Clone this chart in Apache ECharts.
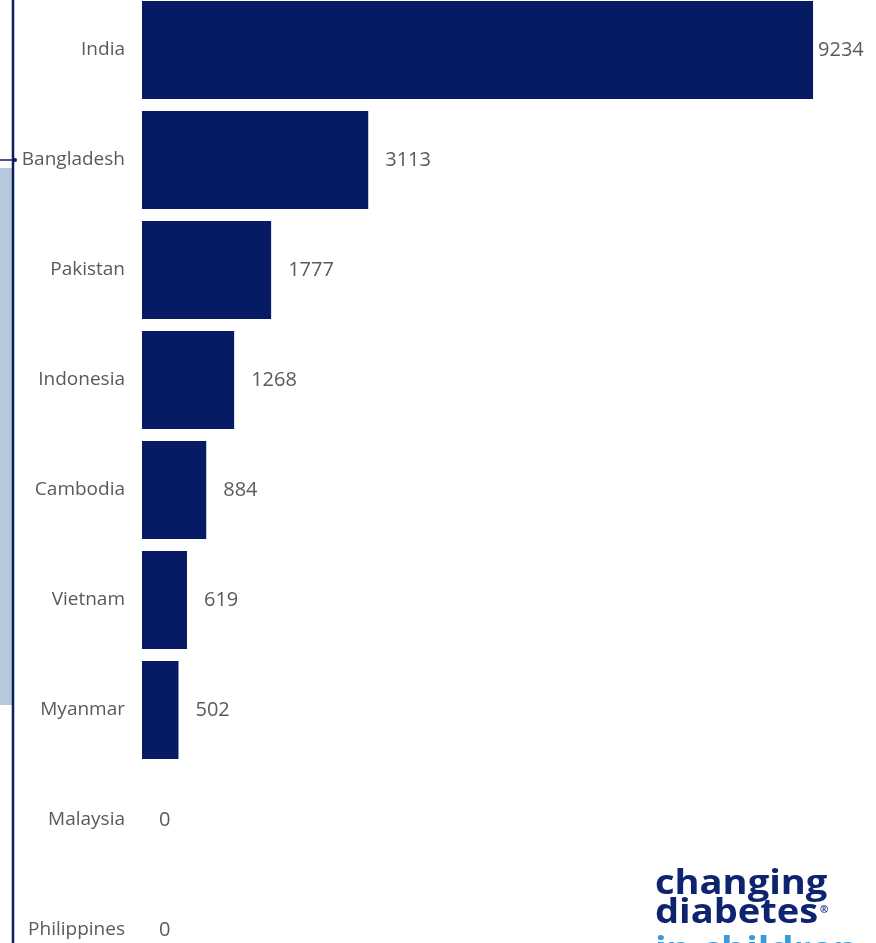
<!DOCTYPE html>
<html><head><meta charset="utf-8">
<script src="https://cdn.jsdelivr.net/npm/echarts@6/dist/echarts.min.js"></script>
<style>html,body{margin:0;padding:0;background:#fff;overflow:hidden}#c{position:absolute;left:0;top:-5px;width:876px;height:990px}</style>
</head><body><div id="c"></div>
<script>
const categories = ["India","Bangladesh","Pakistan","Indonesia","Cambodia","Vietnam","Myanmar","Malaysia","Philippines"];
const values = [9234,3113,1777,1268,884,619,502,0,0];

const barData = values.map((v, i) => i === 0 ? {value: v, label: {distance: 5}} : v);
const OY = 5; // offset of the chart div above the viewport

const chart = echarts.init(document.getElementById('c'));
chart.setOption({
  backgroundColor: '#ffffff',
  animation: false,
  grid: {left: 142, width: 726.7, top: 0, bottom: 0, containLabel: false, outerBoundsMode: 'none'},
  xAxis: {type: 'value', min: 0, max: 10000, show: false},
  yAxis: {
    type: 'category', data: categories, inverse: true,
    axisLine: {show: false}, axisTick: {show: false},
    axisLabel: {color: '#5a5a5a', fontSize: 19, margin: 17, fontFamily: 'Open Sans', padding: [4, 0, 0, 0]}
  },
  series: [{
    type: 'bar', data: barData, barCategoryGap: '11%',
    itemStyle: {color: '#061b63'},
    label: {show: true, position: 'right', distance: 17, color: '#5a5a5a', fontSize: 20, fontFamily: 'Open Sans', padding: [5, 0, 0, 0]}
  }],
  graphic: [
    {type: 'rect', shape: {x: 0, y: 168 + OY, width: 12, height: 537}, style: {fill: '#b8c8dc'}, z: 10},
    {type: 'line', shape: {x1: 13, y1: 0, x2: 13, y2: 990}, style: {stroke: '#0b1f5e', lineWidth: 2.5}, z: 11},
    {type: 'line', shape: {x1: 0, y1: 160 + OY, x2: 16, y2: 160 + OY}, style: {stroke: '#0b1f5e', lineWidth: 1.5}, z: 11},
    {type: 'circle', shape: {cx: 15, cy: 160 + OY, r: 2}, style: {fill: '#0b1f5e'}, z: 11},
    {type: 'text', x: 655, y: 867 + OY, scaleX: 1.12, style: {text: 'changing', fill: '#0e2470', font: 'bold 34px "Open Sans"'}, z: 12},
    {type: 'text', x: 655, y: 896 + OY, scaleX: 1.12, style: {text: 'diabetes', fill: '#0e2470', font: 'bold 34px "Open Sans"'}, z: 12},
    {type: 'text', x: 820, y: 905 + OY, style: {text: '®', fill: '#0e2470', font: 'bold 10px "Open Sans"'}, z: 12},
    {type: 'text', x: 655, y: 934 + OY, scaleX: 1.12, style: {text: 'in children', fill: '#3a9ad9', font: 'bold 34px "Open Sans"'}, z: 12}
  ]
});
</script></body></html>
